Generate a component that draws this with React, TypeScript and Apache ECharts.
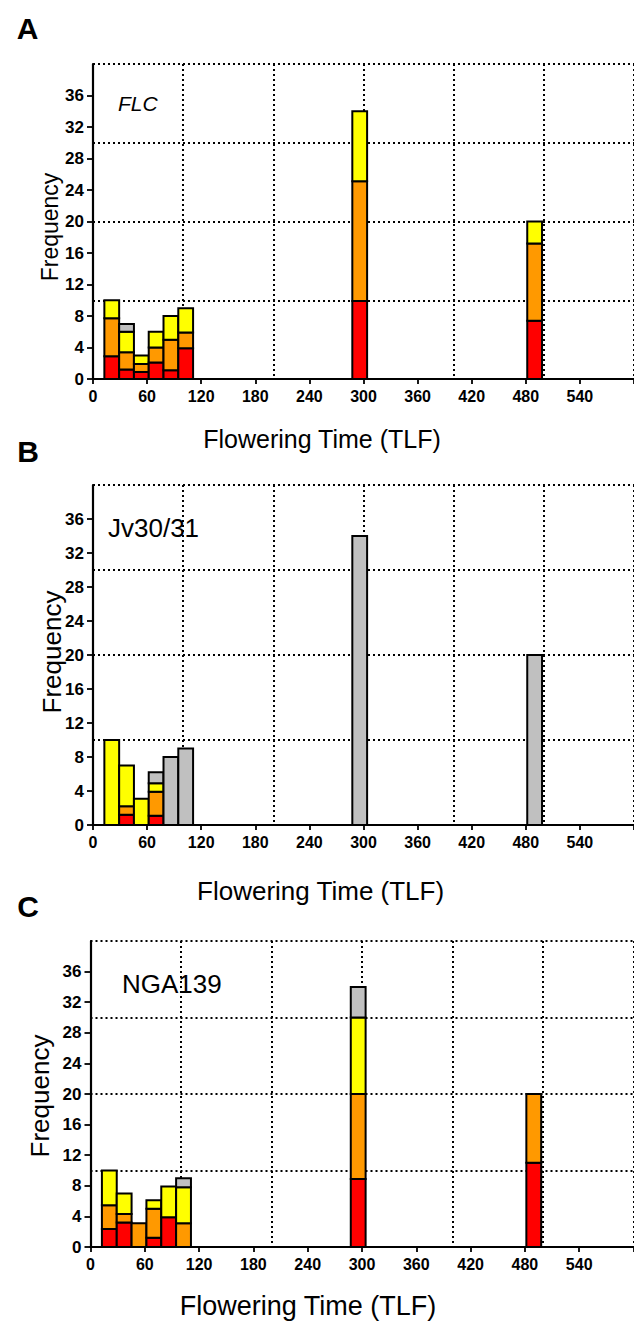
import React, { useEffect, useRef } from "react";
import * as echarts from "echarts";

// ---- data ----
const binCenters = [20.8, 37.2, 53.6, 70, 86.4, 102.8, 295.8, 489.8];
const BIN_WIDTH = 16.4;

const xTickValues = [0, 60, 120, 180, 240, 300, 360, 420, 480, 540, 600];
const xLabelValues = [0, 60, 120, 180, 240, 300, 360, 420, 480, 540];
const yTickValues = [0, 4, 8, 12, 16, 20, 24, 28, 32, 36];

// Panel A (FLC)
const redA = [2.9, 1.2, 0.9, 2.1, 1.1, 3.9, 9.9, 7.4];
const orangeA = [4.8, 2.2, 1.0, 1.9, 3.9, 2.0, 15.2, 9.8];
const yellowA = [2.3, 2.6, 1.1, 2.0, 3.0, 3.1, 8.9, 2.8];
const grayA = [0, 1.0, 0, 0, 0, 0, 0, 0];

// Panel B (Jv30/31)
const redB = [0, 1.2, 0, 1.1, 0, 0, 0, 0];
const orangeB = [0, 1.0, 0, 2.8, 0, 0, 0, 0];
const yellowB = [10, 4.8, 3.1, 1.0, 0, 0, 0, 0];
const grayB = [0, 0, 0, 1.3, 8, 9, 34, 20];

// Panel C (NGA139)
const redC = [2.35, 3.2, 0, 1.2, 3.9, 0, 8.9, 11.0];
const orangeC = [3.1, 1.1, 3.1, 3.8, 0, 3.1, 11.1, 9.0];
const yellowC = [4.55, 2.7, 0, 1.1, 4.0, 4.7, 10, 0];
const grayC = [0, 0, 0, 0, 0, 1.2, 4, 0];

const palette = ["#FF0000", "#FF9900", "#FFFF00", "#C0C0C0"];
const FONT = "'Liberation Sans', Arial, Helvetica, sans-serif";

const panels = [
  {
    letter: "A",
    label: "FLC",
    stacks: [redA, orangeA, yellowA, grayA],
    grid: { left: 93, top: 64, width: 550, height: 315 },
  },
  {
    letter: "B",
    label: "Jv30/31",
    stacks: [redB, orangeB, yellowB, grayB],
    grid: { left: 93, top: 485, width: 550, height: 340 },
  },
  {
    letter: "C",
    label: "NGA139",
    stacks: [redC, orangeC, yellowC, grayC],
    grid: { left: 90.5, top: 941, width: 543, height: 306 },
  },
];

function buildSegments(stacks: number[][]) {
  const out: number[][] = [];
  binCenters.forEach((c, i) => {
    let base = 0;
    stacks.forEach((arr, ci) => {
      const v = arr[i];
      if (v > 0) {
        out.push([c, base, base + v, ci]);
        base += v;
      }
    });
  });
  return out;
}

export default function App() {
  const ref = useRef<HTMLDivElement>(null);

  useEffect(() => {
    if (!ref.current) return;
    const chart = echarts.init(ref.current, null, { renderer: "svg" });

    const grids: any[] = [];
    const xAxes: any[] = [];
    const yAxes: any[] = [];
    const series: any[] = [];
    const dotted = { color: "#000", width: 2, type: [2, 3] };

    panels.forEach((p, i) => {
      grids.push({ ...p.grid, containLabel: false });
      xAxes.push({
        gridIndex: i,
        type: "value",
        min: 0,
        max: 600,
        interval: 60,
        position: "bottom",
        axisLine: { show: true, onZero: false, lineStyle: { color: "#000", width: 2.2 } },
        axisTick: {
          show: true,
          customValues: xTickValues,
          length: 5,
          lineStyle: { color: "#000", width: 1.8 },
        },
        axisLabel: {
          customValues: xLabelValues,
          color: "#000",
          fontWeight: "bold",
          fontSize: 16,
          fontFamily: FONT,
          margin: 9,
        },
        splitLine: { show: false },
      });
      xAxes.push({
        gridIndex: i,
        type: "value",
        min: 0,
        max: 600,
        interval: 100,
        position: "top",
        axisLine: { show: false },
        axisTick: { show: false },
        axisLabel: { show: false },
        splitLine: { show: true, lineStyle: dotted },
      });
      yAxes.push({
        gridIndex: i,
        type: "value",
        min: 0,
        max: 40,
        interval: 4,
        position: "left",
        axisLine: { show: true, onZero: false, lineStyle: { color: "#000", width: 2.2 } },
        axisTick: {
          show: true,
          customValues: yTickValues,
          length: 6,
          lineStyle: { color: "#000", width: 1.8 },
        },
        axisLabel: {
          customValues: yTickValues,
          color: "#000",
          fontWeight: "bold",
          fontSize: 17,
          fontFamily: FONT,
          margin: 9,
        },
        splitLine: { show: false },
      });
      yAxes.push({
        gridIndex: i,
        type: "value",
        min: 0,
        max: 40,
        interval: 10,
        position: "right",
        axisLine: { show: false },
        axisTick: { show: false },
        axisLabel: { show: false },
        splitLine: { show: true, lineStyle: dotted },
      });

      series.push({
        type: "custom",
        xAxisIndex: i * 2,
        yAxisIndex: i * 2,
        data: buildSegments(p.stacks),
        encode: { x: 0, y: [1, 2] },
        renderItem: (params: any, api: any) => {
          const c = api.value(0);
          const y0 = api.value(1);
          const y1 = api.value(2);
          const ci = api.value(3);
          const p0 = api.coord([c - BIN_WIDTH / 2, y0]);
          const p1 = api.coord([c + BIN_WIDTH / 2, y1]);
          return {
            type: "rect",
            shape: {
              x: p0[0],
              y: p1[1],
              width: p1[0] - p0[0],
              height: p0[1] - p1[1],
            },
            style: { fill: palette[ci], stroke: "#000", lineWidth: 2 },
          };
        },
        z: 3,
      });
    });

    const text = (
      str: string,
      x: number,
      y: number,
      size: number,
      opts: any = {}
    ) => ({
      type: "text",
      x,
      y,
      rotation: opts.rotation || 0,
      style: {
        text: str,
        fill: "#000",
        font: `${opts.style || "normal"} ${opts.weight || "normal"} ${size}px ${FONT}`,
        textAlign: opts.align || "center",
        textVerticalAlign: "middle",
      },
      z: 10,
    });

    const graphic = [
      text("A", 27.5, 28, 30, { weight: "bold" }),
      text("B", 28, 451, 30, { weight: "bold" }),
      text("C", 28, 906, 30, { weight: "bold" }),
      text("FLC", 118, 103, 21, { style: "italic", align: "left" }),
      text("Jv30/31", 108, 528, 26, { align: "left" }),
      text("NGA139", 122, 983.5, 26, { align: "left" }),
      text("Frequency", 50, 227, 23, { rotation: Math.PI / 2 }),
      text("Frequency", 52, 652, 26, { rotation: Math.PI / 2 }),
      text("Frequency", 40, 1096, 26, { rotation: Math.PI / 2 }),
      text("Flowering Time (TLF)", 322, 439, 25),
      text("Flowering Time (TLF)", 320.6, 891, 26),
      text("Flowering Time (TLF)", 308, 1306, 27),
    ];

    chart.setOption({
      animation: false,
      backgroundColor: "#fff",
      grid: grids,
      xAxis: xAxes,
      yAxis: yAxes,
      series,
      graphic,
    });

    return () => chart.dispose();
  }, []);

  return (
    <div
      ref={ref}
      style={{ position: "absolute", left: 0, top: 0, width: 634, height: 1321 }}
    />
  );
}
